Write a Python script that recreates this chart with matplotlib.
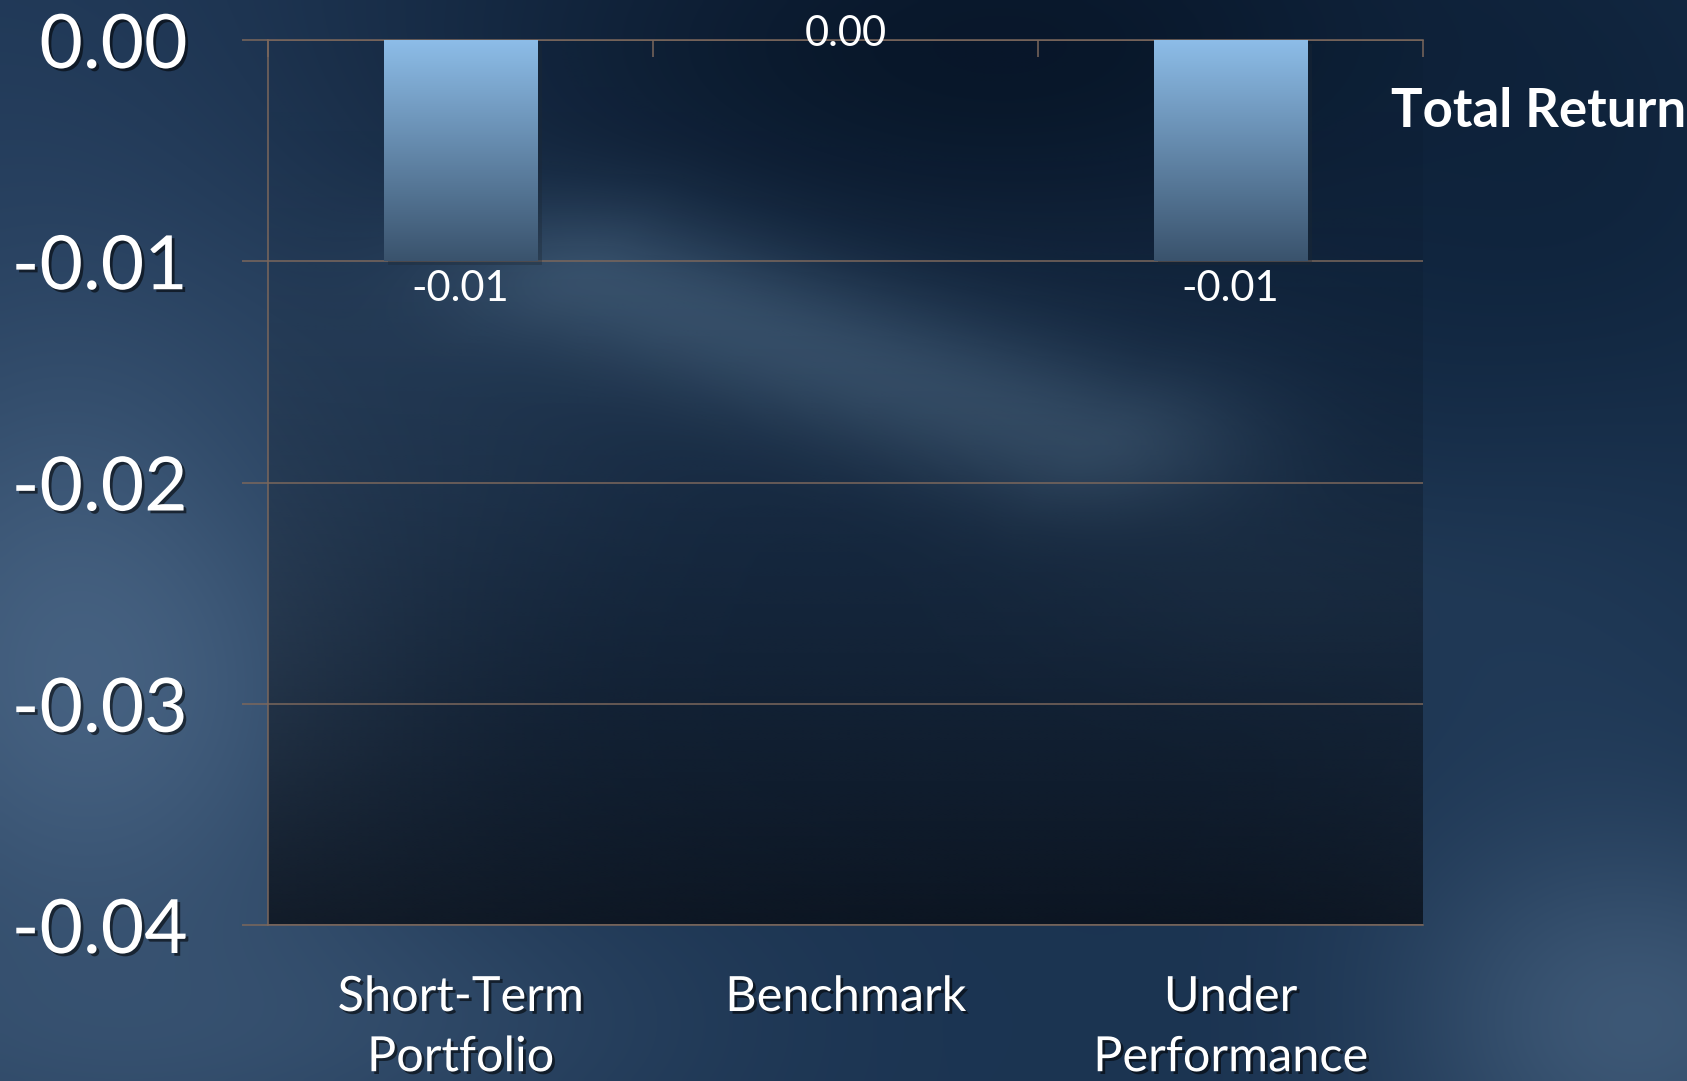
import numpy as np
import matplotlib.pyplot as plt
import matplotlib.patheffects as pe
from matplotlib.colors import to_rgb
from matplotlib.ticker import FixedLocator, FormatStrFormatter

plt.rcParams['font.family'] = ['Lato', 'DejaVu Sans']
plt.rcParams['axes.unicode_minus'] = False

# data
categories = ['Short-Term\nPortfolio', 'Benchmark', 'Under\nPerformance']
total_return = [-0.01, 0.00, -0.01]
value_labels = ['-0.01', '0.00', '-0.01']
series_name = 'Total Return'
y_ticks = [0.00, -0.01, -0.02, -0.03, -0.04]

line_col = '#7b675c'
shadow = [pe.withSimplePatchShadow(offset=(2, -2), shadow_rgbFace='black', alpha=0.55)]

fig = plt.figure(figsize=(16.87, 10.81), dpi=100)

# ---- slide background (dark blue with soft light streaks) ----
h, w = 216, 337
yy, xx = np.mgrid[0:1:h * 1j, 0:1:w * 1j]
bg = np.ones((h, w, 3)) * np.array(to_rgb('#1b3350'))
blobs = [
    # cx, cy, sx, sy, colour, strength
    (0.05, 0.10, 0.20, 0.20, '#243d5d', 0.8),
    (0.05, 0.62, 0.13, 0.25, '#4a6686', 0.9),
    (0.10, 0.95, 0.22, 0.10, '#3b5675', 0.7),
    (0.60, 0.04, 0.25, 0.16, '#081629', 0.95),
    (0.92, 0.22, 0.12, 0.22, '#0c2038', 0.85),
    (0.93, 0.70, 0.10, 0.25, '#223c5a', 0.7),
    (0.97, 0.95, 0.10, 0.12, '#45607e', 0.8),
    (0.62, 0.95, 0.12, 0.08, '#1a3452', 0.5),
    (0.25, 0.40, 0.10, 0.10, '#2a4462', 0.5),
    (0.75, 0.55, 0.10, 0.07, '#2a4460', 0.45),
]
for cx, cy, sx, sy, col, s in blobs:
    wgt = s * np.exp(-((xx - cx) ** 2 / (2 * sx ** 2) + (yy - cy) ** 2 / (2 * sy ** 2)))
    bg = bg * (1 - wgt[..., None]) + np.array(to_rgb(col)) * wgt[..., None]
# diagonal lighter band across the middle
p0, p1 = np.array([0.35, 0.26]), np.array([0.64, 0.41])
d = p1 - p0
t = np.clip(((xx - p0[0]) * d[0] + (yy - p0[1]) * d[1]) / (d @ d), 0, 1)
dist = np.hypot(xx - (p0[0] + t * d[0]), (yy - (p0[1] + t * d[1])) * 1.4)
wgt = 0.8 * np.exp(-dist ** 2 / (2 * 0.07 ** 2))
bg = bg * (1 - wgt[..., None]) + np.array(to_rgb('#45627f')) * wgt[..., None]

bg_ax = fig.add_axes([0, 0, 1, 1], zorder=-10)
bg_ax.imshow(bg, aspect='auto', extent=[0, 1, 0, 1], interpolation='bicubic')
bg_ax.axis('off')

# ---- chart ----
ax = fig.add_axes([0.1589, 0.1443, 0.6846, 0.8187])
ax.set_facecolor('none')

x = np.arange(len(categories))
ax.set_xlim(-0.5, len(categories) - 0.5)
ax.set_ylim(min(y_ticks), max(y_ticks))

# plot area darkening towards the bottom
ov = np.zeros((100, 2, 4))
ov[..., :3] = to_rgb('#070b12')
fr = np.linspace(1, 0, 100)
ov[..., 3] = (0.04 + 0.70 * fr ** 1.8)[:, None]
ax.imshow(ov, aspect='auto', extent=[-0.5, len(categories) - 0.5, min(y_ticks), max(y_ticks)],
          origin='lower', zorder=0, interpolation='bilinear')

bars = ax.bar(x, total_return, width=0.4, color='#5f86aa', zorder=3, label=series_name)
grad = np.zeros((100, 1, 3))
top, bot = np.array(to_rgb('#8dbde8')), np.array(to_rgb('#3a536d'))
s = np.linspace(0, 1, 100)[:, None]
grad[:, 0, :] = (1 - s) * top + s * bot
for b in bars:
    if b.get_height() == 0:
        continue
    b.set_path_effects([pe.SimplePatchShadow(offset=(3, -3), alpha=0.35), pe.Normal()])
    x0, y0 = b.get_x(), b.get_y()
    im = ax.imshow(grad, aspect='auto', origin='upper',
                   extent=[x0, x0 + b.get_width(), y0 + b.get_height(), y0], zorder=4)
    im.set_clip_path(b)

ax.set_xlim(-0.5, len(categories) - 0.5)
ax.set_ylim(min(y_ticks), max(y_ticks))

# data labels
for xi, v, lab in zip(x, total_return, value_labels):
    off = -20 if v < 0 else 4
    ax.annotate(lab, (xi, v), xytext=(0, off), textcoords='offset points',
                ha='center', va='center', fontsize=30, color='white',
                annotation_clip=False, zorder=6)

# axes styling
ax.yaxis.set_major_locator(FixedLocator(y_ticks))
ax.yaxis.set_major_formatter(FormatStrFormatter('%.2f'))
ax.yaxis.grid(True, color=line_col, linewidth=1.1, zorder=1)
ax.set_axisbelow(True)
ax.tick_params(axis='y', length=19, width=1.1, color=line_col, pad=39,
               labelsize=54, labelcolor='white')
for lab in ax.get_yticklabels():
    lab.set_path_effects(shadow)

ax.set_xticks(x)
ax.set_xticklabels(categories, linespacing=1.45)
ax.tick_params(axis='x', length=0, pad=36, labelsize=35, labelcolor='white')
for lab in ax.get_xticklabels():
    lab.set_path_effects(shadow)
ax.set_xticks(np.arange(len(categories) + 1) - 0.5, minor=True)
ax.tick_params(axis='x', which='minor', direction='in', top=True, bottom=False,
               length=12, width=1.1, color=line_col)

for side in ['left', 'bottom', 'top']:
    ax.spines[side].set_color(line_col)
    ax.spines[side].set_linewidth(1.1)
ax.spines['right'].set_visible(False)

leg = ax.legend(handlelength=0, handletextpad=0, frameon=False, loc='center left',
                bbox_to_anchor=(0.8245, 0.897), bbox_transform=fig.transFigure,
                borderpad=0, borderaxespad=0,
                prop={'size': 38, 'weight': 'bold'})
for t in leg.get_texts():
    t.set_color('white')
for hnd in leg.legend_handles:
    hnd.set_visible(False)

fig.savefig('out.png', dpi=100)
